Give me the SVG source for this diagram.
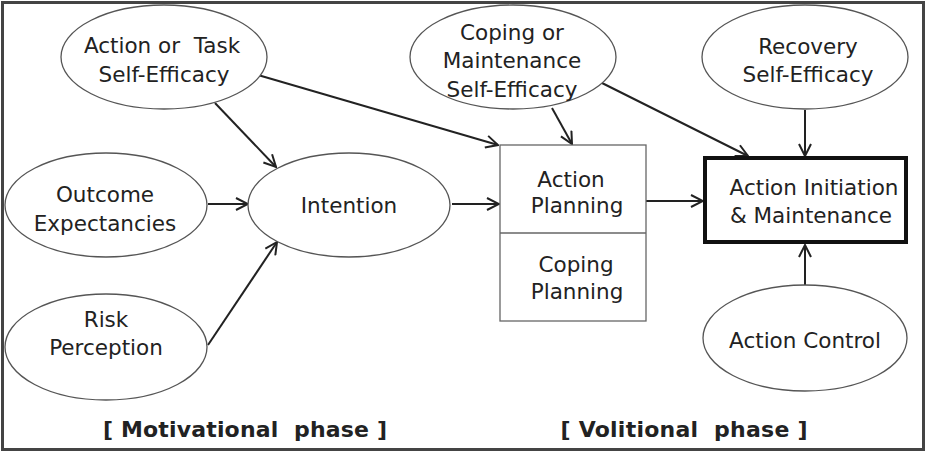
<svg xmlns="http://www.w3.org/2000/svg" width="933" height="453" viewBox="0 0 933 453">
<style>
.n ellipse{fill:#fff;stroke:#555;stroke-width:1.3}
.box{fill:#fff;stroke:#666;stroke-width:1.3}
text{font-family:"DejaVu Sans","Liberation Sans",sans-serif;font-size:21.5px;fill:#222;text-anchor:middle}
.ph{font-size:22px;font-weight:bold}
.c line{stroke:#222;stroke-width:2;marker-end:url(#ah)}
</style>
<defs>
<marker id="ah" viewBox="0 0 14 14" refX="13" refY="7" markerWidth="14" markerHeight="14" markerUnits="userSpaceOnUse" orient="auto">
<path d="M1,1 L13,7 L1,13" fill="none" stroke="#222" stroke-width="2"/>
</marker>
</defs>
<rect x="0" y="0" width="933" height="453" fill="#fff"/>
<rect x="2.5" y="2.5" width="921" height="447" fill="none" stroke="#444" stroke-width="3"/>

<g class="c">
<line x1="215" y1="103" x2="276" y2="167"/>
<line x1="258" y1="75" x2="498" y2="145"/>
<line x1="208" y1="204" x2="248" y2="204"/>
<line x1="208" y1="345" x2="277" y2="242"/>
<line x1="452" y1="204" x2="499" y2="204"/>
<line x1="552" y1="108" x2="572" y2="144"/>
<line x1="600" y1="82" x2="748" y2="156"/>
<line x1="805" y1="110" x2="805" y2="156"/>
<line x1="646" y1="201" x2="703" y2="201"/>
<line x1="805" y1="285" x2="805" y2="245"/>
</g>

<g id="action-task-se" class="n">
<ellipse cx="164" cy="57" rx="103" ry="52"/>
<text x="162" y="53" xml:space="preserve">Action or  Task</text>
<text x="164" y="82">Self-Efficacy</text>
</g>
<g id="outcome-expectancies" class="n">
<ellipse cx="106" cy="205" rx="101" ry="52"/>
<text x="105" y="202">Outcome</text>
<text x="105" y="231">Expectancies</text>
</g>
<g id="risk-perception" class="n">
<ellipse cx="106" cy="347" rx="101" ry="53"/>
<text x="106" y="327">Risk</text>
<text x="106" y="355">Perception</text>
</g>
<g id="intention" class="n">
<ellipse cx="349" cy="205" rx="101" ry="52"/>
<text x="349" y="213">Intention</text>
</g>
<g id="coping-maintenance-se" class="n">
<ellipse cx="513" cy="57" rx="103" ry="52"/>
<text x="512" y="40">Coping or</text>
<text x="512" y="68">Maintenance</text>
<text x="512" y="97">Self-Efficacy</text>
</g>
<g id="recovery-se" class="n">
<ellipse cx="805" cy="57" rx="103" ry="52"/>
<text x="808" y="54">Recovery</text>
<text x="808" y="82">Self-Efficacy</text>
</g>
<g id="planning" class="n">
<rect class="box" x="500" y="145" width="146" height="176"/>
<line x1="500" y1="233" x2="646" y2="233" stroke="#666" stroke-width="1.3"/>
<text x="571" y="187">Action</text>
<text x="577" y="213">Planning</text>
<text x="576" y="272">Coping</text>
<text x="577" y="299">Planning</text>
</g>
<g id="action-initiation" class="n">
<rect x="705" y="158" width="201" height="84" fill="#fff" stroke="#111" stroke-width="4"/>
<text x="814" y="195">Action Initiation</text>
<text x="811" y="223">&amp; Maintenance</text>
</g>
<g id="action-control" class="n">
<ellipse cx="805" cy="338" rx="102" ry="53"/>
<text x="805" y="348">Action Control</text>
</g>

<g id="labels">
<text class="ph" x="245" y="437" textLength="284" lengthAdjust="spacing" xml:space="preserve">[ Motivational  phase ]</text>
<text class="ph" x="684" y="437" textLength="247" lengthAdjust="spacing" xml:space="preserve">[ Volitional  phase ]</text>
</g>
</svg>
